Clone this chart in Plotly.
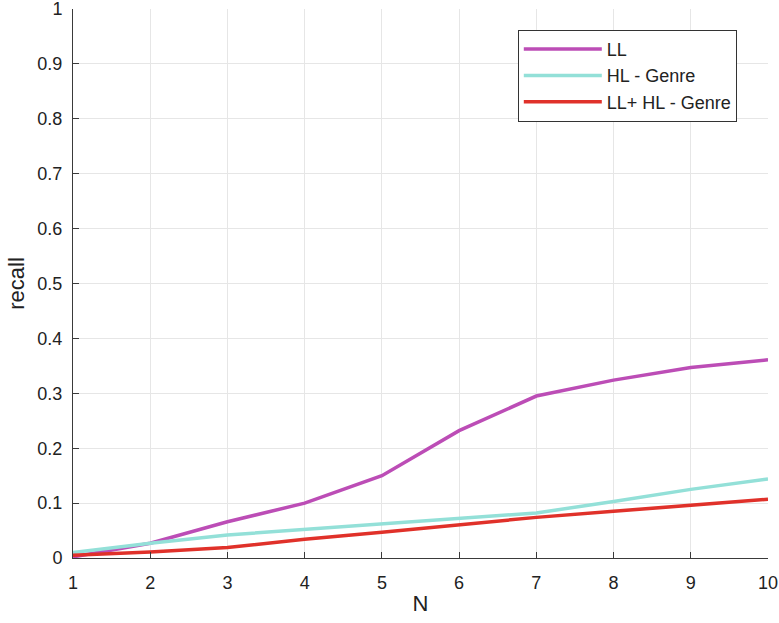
import plotly.graph_objects as go

N = list(range(1, 11))
ll = [0.002, 0.027, 0.066, 0.100, 0.150, 0.232, 0.295, 0.324, 0.347, 0.361]
hl_genre = [0.010, 0.027, 0.042, 0.052, 0.063, 0.073, 0.082, 0.103, 0.125, 0.144]
ll_hl_genre = [0.005, 0.011, 0.019, 0.034, 0.047, 0.060, 0.074, 0.085, 0.096, 0.107]
y_ticks = [0, 0.1, 0.2, 0.3, 0.4, 0.5, 0.6, 0.7, 0.8, 0.9, 1]
y_labels = ["0", "0.1", "0.2", "0.3", "0.4", "0.5", "0.6", "0.7", "0.8", "0.9", "1"]

series = [
    ("LL", ll, "#BC4DB6"),
    ("HL - Genre", hl_genre, "#93E0D8"),
    ("LL+ HL - Genre", ll_hl_genre, "#E0312A"),
]

fig = go.Figure()
for name, vals, col in series:
    fig.add_trace(go.Scatter(x=N, y=vals, mode="lines", name=name,
                             line=dict(color=col, width=3.5)))

axis_common = dict(
    showgrid=True, gridcolor="#E6E6E6", gridwidth=1,
    showline=True, linecolor="#3A3A3A", linewidth=1,
    ticks="inside", ticklen=6, tickcolor="#3A3A3A",
    tickfont=dict(family="Liberation Sans, Arial, sans-serif", size=18, color="#222"),
    zeroline=False, mirror=False, automargin=False, ticklabeloverflow="allow",
)

fig.update_layout(
    width=779, height=623,
    margin=dict(l=73, r=11, t=9, b=65),
    plot_bgcolor="white", paper_bgcolor="white",
    font=dict(family="Liberation Sans, Arial, sans-serif", color="#222"),
    xaxis=dict(range=[1, 10], tickvals=N, ticklabelstandoff=8,
               title=dict(text="N", font=dict(size=22), standoff=4), **axis_common),
    yaxis=dict(range=[0, 1], tickvals=y_ticks, ticktext=y_labels, ticklabelstandoff=6,
               title=dict(text="recall", font=dict(size=22), standoff=6), **axis_common),
    legend=dict(x=0.640, y=0.962, xanchor="left", yanchor="top",
                bgcolor="white", bordercolor="#333", borderwidth=1,
                font=dict(size=18), itemwidth=78, tracegroupgap=0),
    showlegend=True,
)

fig.write_html("out.html", config={"displayModeBar": False},
               post_script="document.body.style.margin='0';")
